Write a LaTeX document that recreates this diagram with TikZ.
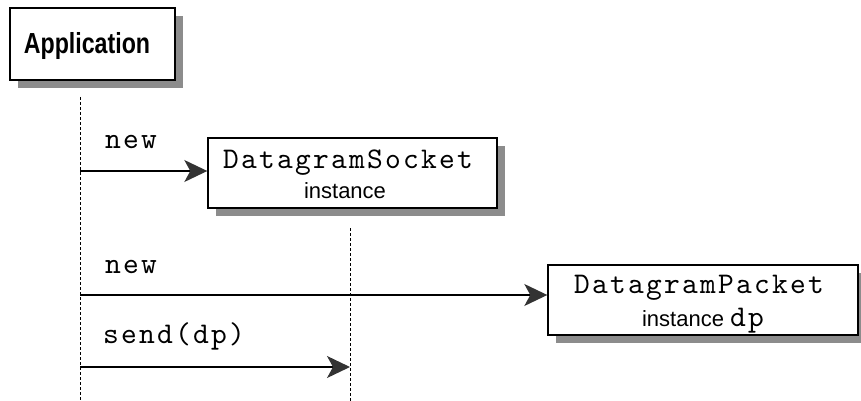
\documentclass[tikz,border=0pt]{standalone}
\usepackage{fontspec}
\usepackage{graphicx}
\setmainfont{Liberation Sans}
\usetikzlibrary{arrows.meta,shadows}

% typewriter face with Courier-like advance width (0.6em per character)
\newfontfamily\codefam{lmmono10-regular}[Extension=.otf, LetterSpace=7.5]
\newcommand\codefont{\codefam\fontsize{30}{30}\selectfont}
\newcommand\labelfont{\rmfamily\fontsize{22}{22}\selectfont}

\tikzset{
  objbox/.style={draw=black, line width=1.4pt, fill=white, inner sep=0pt,
    drop shadow={shadow xshift=8pt, shadow yshift=-8pt, opacity=1, fill=black!45}},
  lifeline/.style={draw=black, line width=0.9pt, dash pattern=on 3pt off 2pt},
  msgtip/.tip={Stealth[length=23pt, width=22pt, inset=6pt, color=black!80]},
  msg/.style={draw=black, line width=1.2pt, arrows={-msgtip}},
  codetext/.style={inner sep=0pt, font=\codefont},
  sanstext/.style={inner sep=0pt, font=\labelfont},
}

\begin{document}
\begin{tikzpicture}[x=1pt, y=-1pt]
  \useasboundingbox (0,0) rectangle (861,401);

  % objects
  \node[objbox, minimum width=165pt, minimum height=72pt] (app) at (92.5,44) {};
  \node[inner sep=0pt, anchor=base] (apptxt) at (87,54)
    {\scalebox{0.8}[1]{\bfseries\fontsize{29}{29}\selectfont Application}};

  \node[objbox, minimum width=289pt, minimum height=70pt] (sock) at (352.5,173) {};
  \node[codetext, anchor=base] (socktxt) at (348,168) {DatagramSocket};
  \node[sanstext, anchor=base] (socklbl) at (345,198) {instance};

  \node[objbox, minimum width=310pt, minimum height=70pt] (pack) at (703,300) {};
  \node[codetext, anchor=base] (packtxt) at (699,293) {DatagramPacket};
  \node[sanstext, anchor=base] (packlbl) at (703,326) {instance {\codefont dp}};

  % lifelines
  \coordinate (l1top) at (80,97);
  \coordinate (l1bot) at (80,405);
  \coordinate (l2top) at (350,228);
  \coordinate (l2bot) at (350,405);
  \draw[lifeline] (l1top) -- (l1bot);
  \draw[lifeline] (l2top) -- (l2bot);

  % messages
  \coordinate (m1) at (80,171);
  \coordinate (m2) at (80,295);
  \coordinate (m3) at (80,367);
  \draw[msg] (m1) -- (m1 -| sock.west);
  \draw[msg] (m2) -- (m2 -| pack.west);
  \draw[msg] (m3) -- (m3 -| l2top);

  \node[codetext, anchor=base west] (new1) at (105,148) {new};
  \node[codetext, anchor=base west] (new2) at (105,273) {new};
  \node[codetext, anchor=base west] (send) at (103,343) {send(dp)};
\end{tikzpicture}
\end{document}
